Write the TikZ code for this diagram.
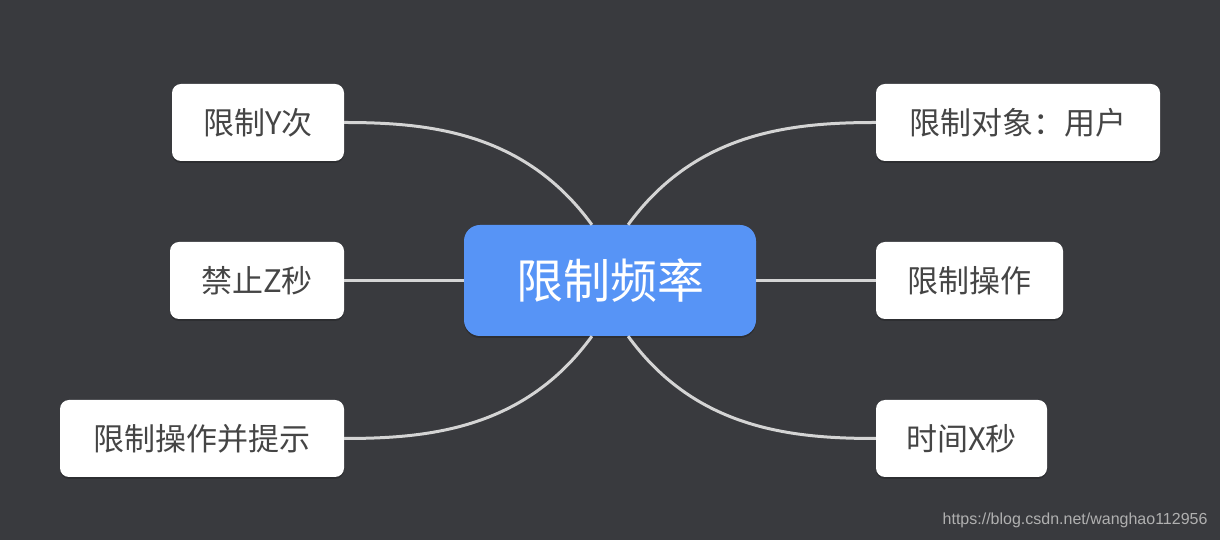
\documentclass[tikz,border=0pt]{standalone}
\usepackage{fontspec}
\setmainfont{Liberation Sans}
\newfontfamily\cjk{Noto Sans CJK SC}
\usetikzlibrary{shadows}
\definecolor{bgdark}{HTML}{393A3E}
\definecolor{topicblue}{HTML}{5794F6}
\definecolor{leaftext}{HTML}{454545}
\definecolor{linkgray}{HTML}{D4D4D4}
\definecolor{marktext}{HTML}{B0B0B0}

\tikzset{
    leaf/.style={fill=white, rounded corners=9pt, minimum height=77pt, inner sep=0pt,
        text=leaftext, font=\cjk\fontsize{31}{31}\selectfont,
        drop shadow={shadow xshift=0pt, shadow yshift=-2pt, opacity=0.2, fill=black}},
    topic/.style={fill=topicblue, rounded corners=16pt, minimum width=292pt, minimum height=111pt,
        inner sep=0pt, text=white, font=\cjk\fontsize{47}{47}\selectfont,
        drop shadow={shadow xshift=0pt, shadow yshift=-2pt, opacity=0.2, fill=black}},
    link/.style={draw=linkgray, line width=3pt, out looseness=0.8, in looseness=1.1}
}

\begin{document}
\begin{tikzpicture}[x=1pt, y=1pt]
        \fill [bgdark] (0,0) rectangle (1220,540);
        \useasboundingbox (0,0) rectangle (1220,540);
        % centre
        \node [topic] (freq) at (610,259.5) {限制频率};
        % left side
        \node [leaf, minimum width=172pt] (ytimes) at (258,417.5) {限制Y次};
        \node [leaf, minimum width=174pt] (zsec) at (257,259.5) {禁止Z秒};
        \node [leaf, minimum width=284pt] (hint) at (202,101.5) {限制操作并提示};
        % right side
        \node [leaf, minimum width=284pt] (user) at (1018,417.5) {限制对象：用户};
        \node [leaf, minimum width=187pt] (action) at (969.5,259.5) {限制操作};
        \node [leaf, minimum width=171pt] (xsec) at (961.5,101.5) {时间X秒};
        % links
        \draw [link] (ytimes.east) to [out=0, in=126] (freq.108);
        \draw [link] (zsec.east) -- (freq.west);
        \draw [link] (hint.east) to [out=0, in=-126] (freq.252);
        \draw [link] (user.west) to [out=180, in=54] (freq.72);
        \draw [link] (action.west) -- (freq.east);
        \draw [link] (xsec.west) to [out=180, in=-54] (freq.288);
        \node [anchor=east, text=marktext, font=\fontsize{16}{16}\selectfont] (mark) at (1211,20) {https://blog.csdn.net/wanghao112956};
    \end{tikzpicture}
\end{document}
